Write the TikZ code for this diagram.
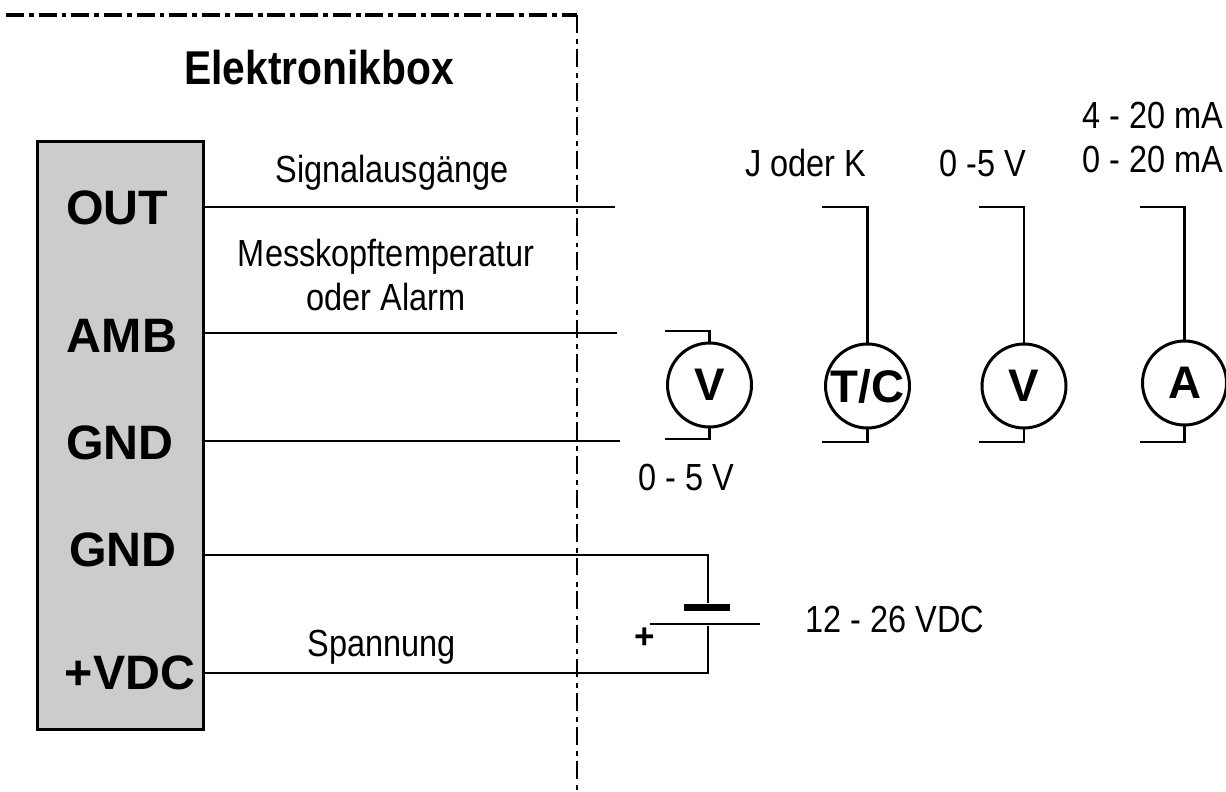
\documentclass[tikz,border=0pt]{standalone}
\usepackage{fontspec}
\setmainfont{Liberation Sans}
\newfontfamily\narrowfont{Liberation Sans}[FakeStretch=0.86]
\usepackage{xcolor}
\usetikzlibrary{positioning}
\definecolor{boxgray}{HTML}{CCCCCC}

\begin{document}
\begin{tikzpicture}[x=0.02cm, y=-0.02cm]
    \tikzstyle{pinlabel} = [inner sep=0pt, font=\fontsize{27.5}{28}\selectfont\bfseries]
    \tikzstyle{caption} = [inner sep=0pt, align=center, font=\narrowfont\fontsize{21.5}{25.5}\selectfont]
    \tikzstyle{meter} = [circle, draw, line width=1.7pt, minimum size=1.68cm, inner sep=0pt, font=\fontsize{26}{26}\selectfont\bfseries]
    \tikzstyle{wire} = [line width=1.3pt]
    \useasboundingbox (0,0) rectangle (1226,791);

    % Electronics box
    \node [rectangle, draw, line width=1.7pt, fill=boxgray, minimum width=3.32cm, minimum height=11.78cm] (box) at (120.5,435.5) {};
    \node [caption, font=\narrowfont\fontsize{27}{30}\selectfont\bfseries] (title) at (319,68) {Elektronikbox};

    % Housing border
    \coordinate (borderstart) at (6,15);
    \coordinate (bordercorner) at (577,15);
    \coordinate (borderend) at (577,791);
    \draw[line width=2.6pt, dash pattern=on 10.2pt off 2.8pt on 2.8pt off 2.8pt] (borderstart) -- (bordercorner);
    \draw[line width=1.3pt, dash pattern=on 10.2pt off 3.5pt on 2.8pt off 2.8pt] (bordercorner) -- (borderend);

    % Terminals
    \node [pinlabel] (out) at (117,208) {OUT};
    \node [pinlabel] (amb) at (122,336) {AMB};
    \node [pinlabel] (gnda) at (120,443) {GND};
    \node [pinlabel] (gndb) at (123,550) {GND};
    \node [pinlabel] (vdc) at (130,673) {+VDC};

    % Meters
    \node [meter] (meterv) at (709.5,385) {V};
    \node [meter] (metertc) at (867.5,386) {T/C};
    \node [meter] (meterw) at (1024,386) {V};
    \node [meter] (metera) at (1184.5,383) {A};

    % Free wire ends
    \coordinate (outend) at (615,207);
    \coordinate (ambend) at (617,333);
    \coordinate (gndend) at (620,441);
    \coordinate (vtop) at (665,331);
    \coordinate (vbot) at (665,439);
    \coordinate (tctop) at (822,207);
    \coordinate (tcbot) at (822,442);
    \coordinate (wtop) at (979,207);
    \coordinate (wbot) at (979,442);
    \coordinate (atop) at (1140,207);
    \coordinate (abot) at (1140,442);

    % Signal wires
    \draw[wire] (box.east |- outend) -- (outend);
    \draw[wire] (box.east |- ambend) -- (ambend);
    \draw[wire] (box.east |- gndend) -- (gndend);
    \draw[wire] (vtop) -| (meterv.north);
    \draw[wire] (vbot) -| (meterv.south);
    \draw[wire] (tctop) -| (metertc.north);
    \draw[wire] (tcbot) -| (metertc.south);
    \draw[wire] (wtop) -| (meterw.north);
    \draw[wire] (wbot) -| (meterw.south);
    \draw[wire] (atop) -| (metera.north);
    \draw[wire] (abot) -| (metera.south);

    % Battery
    \node [rectangle, fill=black, inner sep=0pt, minimum width=0.92cm, minimum height=0.14cm] (minusplate) at (707,607) {};
    \node [rectangle, fill=black, inner sep=0pt, minimum width=2.2cm, minimum height=0.05cm] (plusplate) at (705,624) {};
    \coordinate (gndturn) at (708,555);
    \coordinate (vdcturn) at (708,673);
    \draw[wire] (box.east |- gndturn) -- (gndturn) -- (gndturn |- minusplate.north);
    \draw[wire] (box.east |- vdcturn) -- (vdcturn) -- (vdcturn |- plusplate.south);
    \node [inner sep=0pt, font=\fontsize{20}{20}\selectfont\bfseries] (plus) at (645,638) {+};

    % Labels
    \node [caption] (signal) at (392,173) {Signalausgänge};
    \node [caption] (probe) at (386,275) {Messkopftemperatur\\oder Alarm};
    \node [caption] (supply) at (382,647) {Spannung};
    \node [caption, below=0.7cm of meterv, xshift=-0.46cm] (rangev) {0 - 5 V};
    \node [caption] (rangetc) at (806,163) {J oder K};
    \node [caption] (rangew) at (983,163) {0 -5 V};
    \node [caption] (rangea) at (1153,137.5) {4 - 20 mA\\0 - 20 mA};
    \node [caption] (rangevdc) at (895,619) {12 - 26 VDC};
\end{tikzpicture}
\end{document}
